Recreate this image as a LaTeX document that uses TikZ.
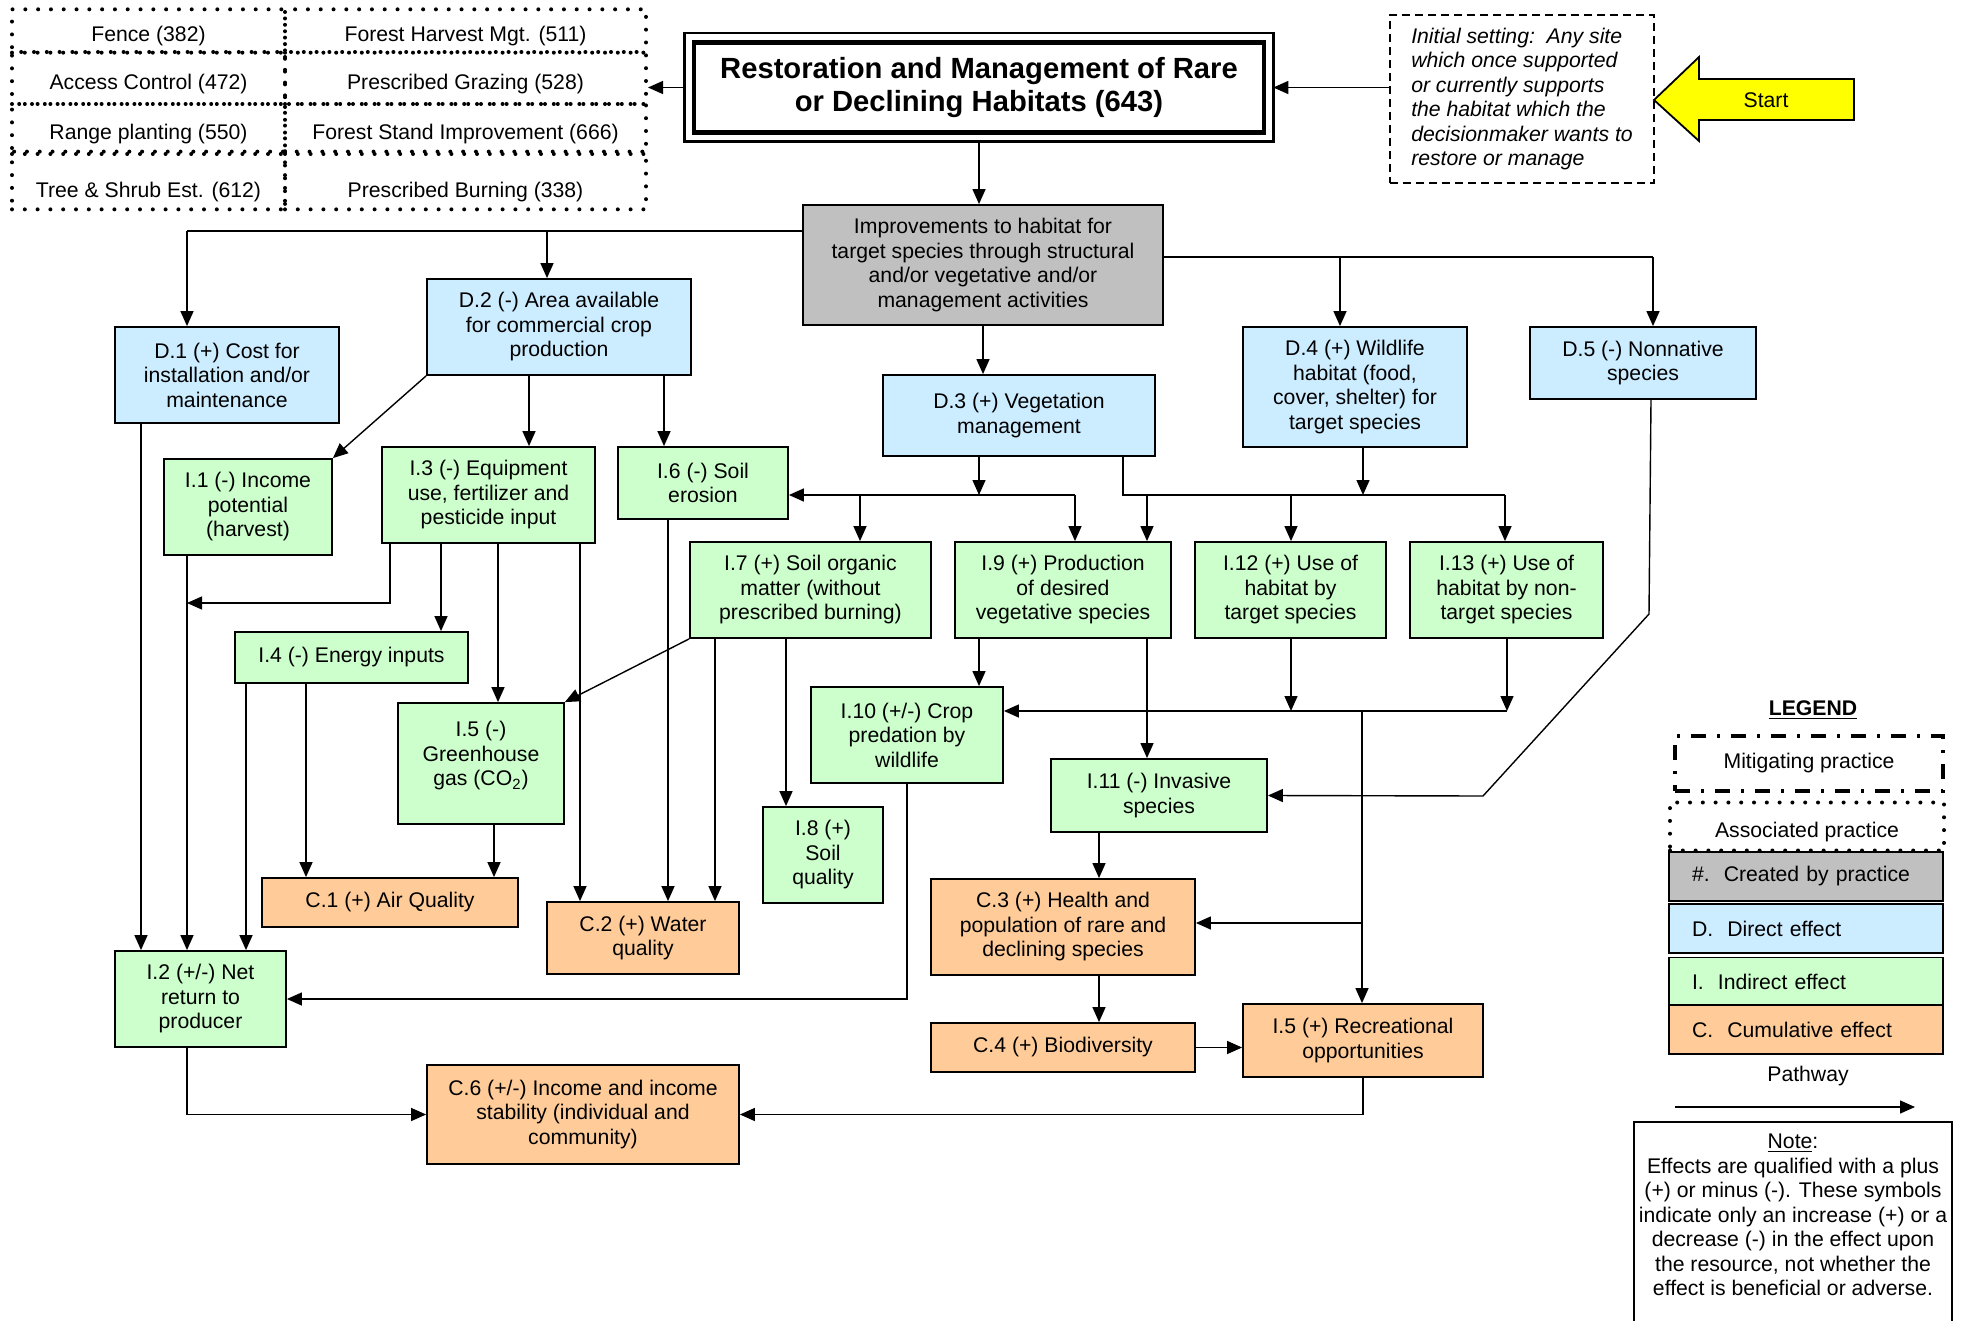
\documentclass[tikz,border=0pt]{standalone}
\usepackage{fontspec}
\setmainfont{Liberation Sans}
\usetikzlibrary{arrows.meta}
\definecolor{createdcolor}{RGB}{192,192,192}
\definecolor{directcolor}{RGB}{204,236,255}
\definecolor{indirectcolor}{RGB}{204,255,204}
\definecolor{cumulcolor}{RGB}{255,204,153}
\definecolor{startcolor}{RGB}{255,255,0}

\begin{document}
\fontsize{10.6}{12.25}\selectfont
\begin{tikzpicture}[x=0.5pt, y=-0.5pt,
    box/.style={draw, line width=0.9pt, align=center, inner sep=3pt},
    pbox/.style={box, fill=createdcolor},
    dbox/.style={box, fill=directcolor},
    ibox/.style={box, fill=indirectcolor},
    cbox/.style={box, fill=cumulcolor},
    assoc/.style={draw, line width=2pt, dash pattern=on 0pt off 6.4pt, line cap=round, align=center, text depth=2.2pt},
    mitig/.style={draw, line width=1.8pt, dash pattern=on 7.5pt off 5.5pt on 1.5pt off 5.5pt, align=center},
    keybox/.style={draw, line width=0.9pt, text width=114pt, inner xsep=11.5pt, minimum height=24.5pt, align=left},
    path/.style={-{Triangle[length=7.5pt,width=6.5pt]}, line width=0.7pt},
    link/.style={line width=0.7pt}]
    \useasboundingbox (0,0) rectangle (1965,1321);
    % associated practices
    \node[assoc, minimum width=136.5pt, minimum height=21pt, text height=12.4pt] (fence) at (148.5,31) {Fence (382)};
    \node[assoc, minimum width=180.5pt, minimum height=21pt, text height=12.4pt] (harvest) at (465.5,31) {Forest Harvest Mgt. (511)};
    \node[assoc, minimum width=136.5pt, minimum height=26pt, text height=13.8pt] (access) at (148.5,78) {Access Control (472)};
    \node[assoc, minimum width=180.5pt, minimum height=26pt, text height=13.8pt] (grazing) at (465.5,78) {Prescribed Grazing (528)};
    \node[assoc, minimum width=136.5pt, minimum height=25pt, text height=12.8pt] (range) at (148.5,129) {Range planting (550)};
    \node[assoc, minimum width=180.5pt, minimum height=25pt, text height=12.8pt] (standimp) at (465.5,129) {Forest Stand Improvement (666)};
    \node[assoc, minimum width=136.5pt, minimum height=26.5pt, text height=19.6pt] (treeshrub) at (148.5,180.5) {Tree \& Shrub Est. (612)};
    \node[assoc, minimum width=180.5pt, minimum height=26.5pt, text height=19.6pt] (burning) at (465.5,180.5) {Prescribed Burning (338)};
    % practice and setting
    \node[draw, line width=2.3pt, align=center, minimum width=285pt, minimum height=45pt,
      font=\bfseries\fontsize{14.6}{16.9}\selectfont] (title) at (979,87.5)
      {Restoration and Management of Rare\\or Declining Habitats (643)};
    \draw[line width=1.3pt] ([shift={(-3.5pt,3.5pt)}]title.north west) rectangle ([shift={(3.5pt,-3.5pt)}]title.south east);
    \node[draw, line width=0.8pt, dash pattern=on 4pt off 2.5pt, align=left, font=\itshape,
      minimum width=132pt, minimum height=84pt] (init) at (1522,99)
      {Initial setting:\ \ Any site\\which once supported\\or currently supports\\the habitat which the\\decisionmaker wants to\\restore or manage};
    \draw[fill=startcolor, line width=0.9pt] (1654,100) -- (1699,57) -- (1699,79) -- (1854,79)
      -- (1854,120) -- (1699,120) -- (1699,141) -- cycle;
    \node (start) at (1766,100) {Start};
    % effects
    \node[pbox, minimum width=180pt, minimum height=60pt] (imp) at (983,265) {Improvements to habitat for\\target species through structural\\and/or vegetative and/or\\management activities};
    \node[dbox, minimum width=112pt, minimum height=48pt] (D1) at (227,375) {D.1 (+) Cost for\\installation and/or\\maintenance};
    \node[dbox, minimum width=132pt, minimum height=48pt] (D2) at (559,327) {D.2 (-) Area available\\for commercial crop\\production};
    \node[dbox, minimum width=136pt, minimum height=40.5pt] (D3) at (1019,415.5) {D.3 (+) Vegetation\\management};
    \node[dbox, minimum width=112pt, minimum height=60pt] (D4) at (1355,387) {D.4 (+) Wildlife\\habitat (food,\\cover, shelter) for\\target species};
    \node[dbox, minimum width=113pt, minimum height=36pt] (D5) at (1643,363) {D.5 (-) Nonnative\\species};
    \node[ibox, minimum width=84pt, minimum height=48pt] (I1) at (248,507) {I.1 (-) Income\\potential\\(harvest)};
    \node[ibox, minimum width=106.5pt, minimum height=48pt] (I3) at (488.5,495) {I.3 (-) Equipment\\use, fertilizer and\\pesticide input};
    \node[ibox, minimum width=85pt, minimum height=36pt] (I6) at (703,483) {I.6 (-) Soil\\erosion};
    \node[ibox, minimum width=120.5pt, minimum height=48pt] (I7) at (810.5,590) {I.7 (+) Soil organic\\matter (without\\prescribed burning)};
    \node[ibox, minimum width=108pt, minimum height=48pt] (I9) at (1063,590) {I.9 (+) Production\\of desired\\vegetative species};
    \node[ibox, minimum width=95.5pt, minimum height=48pt] (I12) at (1290.5,590) {I.12 (+) Use of\\habitat by\\target species};
    \node[ibox, minimum width=96.5pt, minimum height=48pt] (I13) at (1506.5,590) {I.13 (+) Use of\\habitat by non-\\target species};
    \node[ibox, minimum width=116.5pt, minimum height=25.5pt] (I4) at (351.5,657.5) {I.4 (-) Energy inputs};
    \node[ibox, minimum width=83pt, minimum height=60.5pt] (I5) at (481,763.5) {};
    \node[align=center] (I5text) at (481,756) {I.5 (-)\\Greenhouse\\gas (CO\textsubscript{2})};
    \node[ibox, minimum width=96pt, minimum height=48pt] (I10) at (907,735) {I.10 (+/-) Crop\\predation by\\wildlife};
    \node[ibox, minimum width=108pt, minimum height=36.5pt] (I11) at (1159,795.5) {I.11 (-) Invasive\\species};
    \node[ibox, minimum width=60pt, minimum height=48pt] (I8) at (823,855) {I.8 (+)\\Soil\\quality};
    \node[ibox, minimum width=85.5pt, minimum height=48pt] (I2) at (200.5,999) {I.2 (+/-) Net\\return to\\producer};
    \node[cbox, minimum width=128pt, minimum height=24.5pt] (C1) at (390,902.5) {C.1 (+) Air Quality};
    \node[cbox, minimum width=96pt, minimum height=36pt] (C2) at (643,938) {C.2 (+) Water\\quality};
    \node[cbox, minimum width=132pt, minimum height=48pt] (C3) at (1063,927) {C.3 (+) Health and\\population of rare and\\declining species};
    \node[cbox, minimum width=132pt, minimum height=24.5pt] (C4) at (1063,1047.5) {C.4 (+) Biodiversity};
    \node[cbox, minimum width=120pt, minimum height=36.5pt] (R5) at (1363,1040.5) {I.5 (+) Recreational\\opportunities};
    \node[cbox, minimum width=156pt, minimum height=49.5pt] (C6) at (583,1114.5) {C.6 (+/-) Income and income\\stability (individual and\\community)};
    % title connectors
    \draw[path] ([xshift=-3.5pt]title.west) -- (grazing.east |- title.west);
    \draw[path] (init.west |- title.east) -- ([xshift=3.5pt]title.east);
    \draw[path] ([yshift=-3.5pt]title.south) -- (title.south |- imp.north);
    % improvements to direct effects
    \draw[link] (imp.west |- 0,231) -- (187,231);
    \draw[path] (187,231) -- (D1.north -| 187,0);
    \draw[path] (547,231) -- (D2.north -| 547,0);
    \draw[link] (imp.east |- 0,257) -- (1653,257);
    \draw[path] (1340,257) -- (D4.north -| 1340,0);
    \draw[path] (1653,257) -- (D5.north -| 1653,0);
    \draw[path] (imp.south) -- (imp.south |- D3.north);
    % D.1 and D.2
    \draw[path] (D1.south -| 141,0) -- (I2.north -| 141,0);
    \draw[path] (D2.south west) -- (I1.north east);
    \draw[path] (D2.south -| 529,0) -- (I3.north -| 529,0);
    \draw[path] (D2.south -| 664,0) -- (I6.north -| 664,0);
    % D.3, D.4, D.5
    \draw[path] (D3.south -| 979,0) -- (979,495);
    \draw[path] (979,495) -- (I6.east |- 0,495);
    \draw[link] (979,495) -- (1075,495);
    \draw[path] (860,495) -- (I7.north -| 860,0);
    \draw[path] (1075,495) -- (I9.north -| 1075,0);
    \draw[link] (D3.south -| 1123,0) |- (1505,495);
    \draw[path] (D4.south -| 1363,0) -- (1363,495);
    \draw[path] (1147,495) -- (I9.north -| 1147,0);
    \draw[path] (1291,495) -- (I12.north -| 1291,0);
    \draw[path] (1505,495) -- (I13.north -| 1505,0);
    \draw[path] (D5.south -| 1651,0) -- (1649,614) -- (1483,796) -- (I11.east);
    % indirect effects
    \draw[path] (I1.south -| 187,0) -- (I2.north -| 187,0);
    \draw[path] (I3.south -| 390,0) |- (187,603);
    \draw[path] (I3.south -| 441,0) -- (I4.north -| 441,0);
    \draw[path] (I3.south -| 498,0) -- (I5.north -| 498,0);
    \draw[path] (I3.south -| 580,0) -- (C2.north -| 580,0);
    \draw[path] (I4.south -| 246,0) -- (I2.north -| 246,0);
    \draw[path] (I4.south -| 306,0) -- (C1.north -| 306,0);
    \draw[path] (I5.south -| 494,0) -- (C1.north -| 494,0);
    \draw[path] (I7.south west) -- (I5.north east);
    \draw[path] (I6.south -| 668,0) -- (C2.north -| 668,0);
    \draw[path] (I7.south -| 715,0) -- (C2.north -| 715,0);
    \draw[path] (I7.south -| 786,0) -- (I8.north -| 786,0);
    \draw[path] (I9.south -| 979,0) -- (I10.north -| 979,0);
    \draw[path] (I9.south -| 1147,0) -- (I11.north -| 1147,0);
    \draw[path] (I12.south -| 1291,0) -- (1291,711);
    \draw[path] (I13.south -| 1507,0) -- (1507,711);
    \draw[path] (1507,711) -- (I10.east |- 0,711);
    \draw[path] (1362,711) -- (R5.north -| 1362,0);
    \draw[path] (1362,923) -- (C3.east |- 0,923);
    % cumulative effects
    \draw[path] (I10.south) |- (I2.east);
    \draw[path] (I11.south -| 1099,0) -- (C3.north -| 1099,0);
    \draw[path] (C3.south -| 1099,0) -- (C4.north -| 1099,0);
    \draw[path] (C4.east) -- (C4.east -| R5.west);
    \draw[path] (I2.south -| 187,0) |- (C6.west);
    \draw[path] (R5.south) |- (C6.east);
    % legend
    \node (legend) at (1813,710) {\textbf{\underline{LEGEND}}};
    \node[mitig, minimum width=134pt, minimum height=27.5pt] (mitigL) at (1809,763.5) {Mitigating practice};
    \node[assoc, minimum width=137pt, minimum height=24pt, text height=13.6pt] (assocL) at (1807,826.5) {Associated practice};
    \node[keybox, fill=createdcolor] (createdL) at (1806,876.5) {\#.\ \ Created by practice};
    \node[keybox, fill=directcolor] (directL) at (1806,928.5) {D.\ \ Direct effect};
    \node[keybox, fill=indirectcolor] (indirectL) at (1806,982) {I.\ \ Indirect effect};
    \node[keybox, fill=cumulcolor] (cumulL) at (1806,1029.5) {C.\ \ Cumulative effect};
    \node (pathL) at (1808,1076) {Pathway};
    \coordinate (pwstart) at (1675,1107);
    \coordinate (pwend) at (1915,1107);
    \draw[path] (pwstart) -- (pwend);
    \node[draw, line width=0.9pt, minimum width=159pt, minimum height=110pt, anchor=north] (notebox) at (1793,1121) {};
    \node[align=center] (notetext) at (1793,1215) {\underline{Note}:\\Effects are qualified with a plus\\(+) or minus (-). These symbols\\indicate only an increase (+) or a\\decrease (-) in the effect upon\\the resource, not whether the\\effect is beneficial or adverse.};
\end{tikzpicture}
\end{document}
